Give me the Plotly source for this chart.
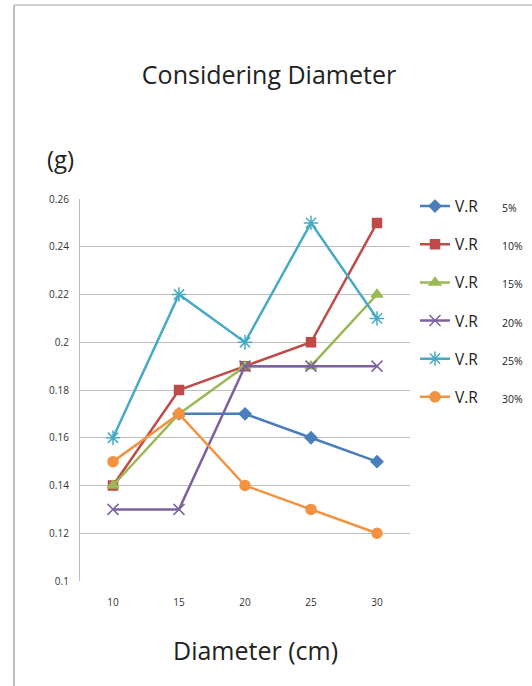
import plotly.graph_objects as go

diameters = ["10", "15", "20", "25", "30"]
series_labels = ["5%", "10%", "15%", "20%", "25%", "30%"]
vr_5 = [None, 0.17, 0.17, 0.16, 0.15]
vr_10 = [0.14, 0.18, 0.19, 0.20, 0.25]
vr_15 = [0.14, 0.17, 0.19, 0.19, 0.22]
vr_20 = [0.13, 0.13, 0.19, 0.19, 0.19]
vr_25 = [0.16, 0.22, 0.20, 0.25, 0.21]
vr_30 = [0.15, 0.17, 0.14, 0.13, 0.12]
y_ticks = [0.1, 0.12, 0.14, 0.16, 0.18, 0.2, 0.22, 0.24, 0.26]
y_tick_text = ["0.1", "0.12", "0.14", "0.16", "0.18", "0.2", "0.22", "0.24", "0.26"]

series = [vr_5, vr_10, vr_15, vr_20, vr_25, vr_30]
colors = ["#4A7EBB", "#BE4B48", "#98B954", "#7D60A0", "#46AAC5", "#F39240"]
symbols = ["diamond", "square", "triangle-up", "x-thin-open", "asterisk-open", "circle"]
sizes = [9, 9, 10, 11, 12, 10]

W, H = 532, 686
PL, PR, PT, PB = 80, 410, 199, 581  # plot area in page pixels


def px(xp):
    return (xp - PL) / (PR - PL)


def py(yp):
    return (PB - yp) / (PB - PT)


fig = go.Figure()
for vals, lab, col, sym, sz in zip(series, series_labels, colors, symbols, sizes):
    fig.add_trace(go.Scatter(
        x=diameters, y=vals, mode="lines+markers",
        name="V.R" + "&nbsp;" * 6 + "<span style='font-size:10.5px'>" + lab + "</span>",
        legendgroup=lab,
        line=dict(color=col, width=2.5),
        marker=dict(symbol=sym, size=sz, color=col, line=dict(color=col, width=1.5)),
        connectgaps=False,
    ))

fig.update_layout(
    width=W, height=H,
    margin=dict(l=PL, r=W - PR, t=PT, b=H - PB, autoexpand=False),
    paper_bgcolor="white", plot_bgcolor="white",
    font=dict(family="Open Sans, Noto Sans, sans-serif", color="#222"),
    title=dict(text="Considering Diameter", x=269 / W, xanchor="center",
               y=1 - 75 / H, yanchor="middle", font=dict(size=25, color="#222")),
    showlegend=True,
    legend=dict(x=px(415), y=py(189.5), xanchor="left", yanchor="top",
                font=dict(size=15.5, color="#222"), tracegroupgap=15,
                bgcolor="rgba(0,0,0,0)", itemwidth=30),
    xaxis=dict(type="category", range=[-0.5, 4.5], showgrid=False, showline=False, ticks="",
               tickfont=dict(size=10, color="#333"), ticklabelstandoff=14),
    yaxis=dict(range=[0.1, 0.26], tickvals=y_ticks, ticktext=y_tick_text,
               showgrid=True, gridcolor="#BDBDBD", gridwidth=1.2,
               showline=True, linecolor="#BDBDBD", linewidth=1.2, zeroline=False,
               ticks="", tickfont=dict(size=10, color="#333"), ticklabelstandoff=8),
)

fig.add_annotation(text="(g)", xref="paper", yref="paper", x=px(60),
                   y=py(158), showarrow=False, xanchor="center", yanchor="middle",
                   font=dict(size=24, color="#222"))
fig.add_annotation(text="Diameter (cm)", xref="paper", yref="paper", x=px(255),
                   y=py(650), showarrow=False, xanchor="center", yanchor="middle",
                   font=dict(size=25, color="#222"))

# outer chart border (left and top)
fig.add_shape(type="line", xref="paper", yref="paper",
              x0=px(14), x1=px(14), y0=py(700), y1=py(5),
              line=dict(color="#BDBDBD", width=2))
fig.add_shape(type="line", xref="paper", yref="paper",
              x0=px(14), x1=px(540), y0=py(5), y1=py(5),
              line=dict(color="#D0D0D0", width=2))

fig.write_html("out.html", config={"displayModeBar": False},
               post_script="document.body.style.margin='0';document.body.style.overflow='hidden';")
